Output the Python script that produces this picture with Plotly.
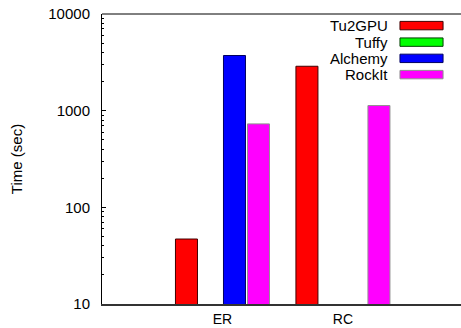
import plotly.graph_objects as go

categories = ["ER", "RC"]
series_names = ["Tu2GPU", "Tuffy", "Alchemy", "RockIt"]
tu2gpu = [47, 2880]
tuffy = [None, None]
alchemy = [3720, None]
rockit = [730, 1130]
colors = ["#ff0000", "#00ff00", "#0000ff", "#ff00ff"]
edge_colors = ["#400000", "#004000", "#000060", "#909090"]
y_ticks = [10, 100, 1000, 10000]

values = [tu2gpu, tuffy, alchemy, rockit]
FONT = "Liberation Sans, Arial, sans-serif"

fig = go.Figure()
for name, vals, c, ec in zip(series_names, values, colors, edge_colors):
    fig.add_trace(go.Bar(
        x=categories, y=vals, name=name,
        marker=dict(color=c, line=dict(color=ec, width=1)),
        showlegend=False,
    ))

# gnuplot-style legend: text on the left, long swatch on the right
row_y = [0.960, 0.903, 0.847, 0.791]
for name, c, ec, yy in zip(series_names, colors, edge_colors, row_y):
    fig.add_shape(type="rect", xref="paper", yref="paper",
                  x0=0.830, x1=0.950, y0=yy - 0.0145, y1=yy + 0.0145,
                  fillcolor=c, line=dict(color=ec, width=1))
    fig.add_annotation(xref="paper", yref="paper", x=0.803, y=yy,
                       text=name, showarrow=False, xanchor="right",
                       yanchor="middle", font=dict(family=FONT, size=15, color="black"))

# top border
fig.add_shape(type="line", xref="paper", yref="paper", x0=0, x1=1, y0=1, y1=1,
              line=dict(color="black", width=1))

fig.update_layout(
    width=461, height=328,
    margin=dict(l=102, r=0, t=14, b=24, autoexpand=False),
    paper_bgcolor="white", plot_bgcolor="white",
    barmode="group", bargap=0.203, bargroupgap=0.083,
    font=dict(family=FONT, size=15, color="black"),
    xaxis=dict(range=[-1.0, 1.98], showline=True, linecolor="#333333", linewidth=2,
               ticks="", showgrid=False, zeroline=False, automargin=False,
               tickfont=dict(size=14), ticklabelstandoff=1),
    yaxis=dict(type="log", range=[1, 4], tickvals=y_ticks,
               ticktext=[str(v) for v in y_ticks], automargin=False,
               ticks="inside", ticklen=4, tickcolor="black",
               minor=dict(ticks="inside", ticklen=2, tickcolor="black", dtick="D1", showgrid=False),
               showline=True, linecolor="black", linewidth=1,
               showgrid=False, zeroline=False, ticklabelstandoff=8,
               title=dict(text="Time (sec)", standoff=22, font=dict(size=15))),
    yaxis2=dict(type="log", range=[1, 4], overlaying="y", side="right", automargin=False,
                tickvals=y_ticks, ticks="inside", ticklen=3, tickcolor="black",
                showticklabels=False, showline=False, showgrid=False, zeroline=False),
)

fig.write_html("out.html", config={"displayModeBar": False},
               post_script="document.body.style.margin='0';document.body.style.overflow='hidden';")
